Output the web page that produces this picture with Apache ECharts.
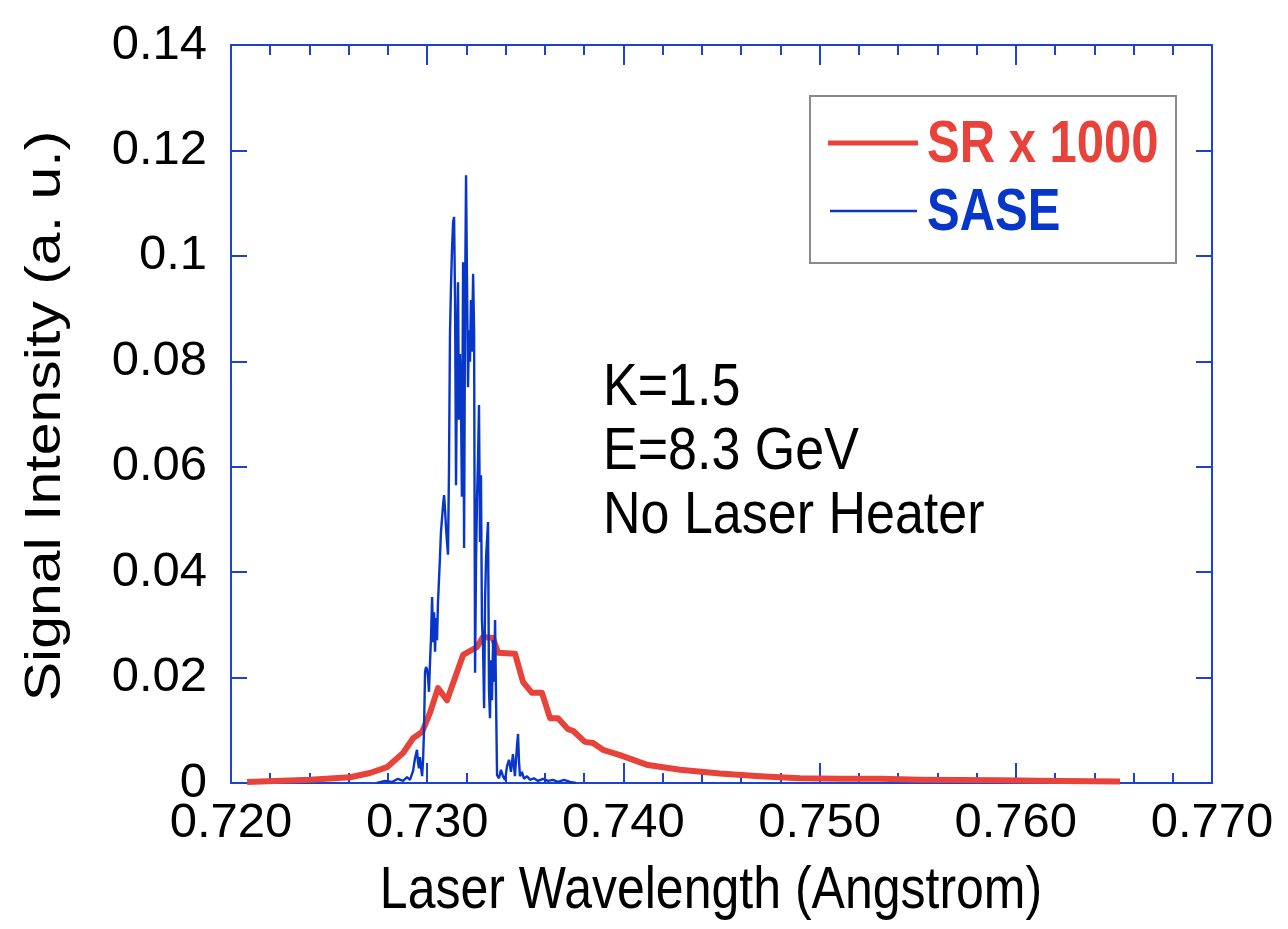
<!DOCTYPE html>
<html>
<head>
<meta charset="utf-8">
<title>Signal Intensity vs Laser Wavelength</title>
<script src="https://cdn.jsdelivr.net/npm/echarts@6/dist/echarts.min.js"></script>
<style>
  html, body { margin: 0; padding: 0; background: #ffffff; }
  #chart { width: 1288px; height: 929px; }
</style>
</head>
<body>
<div id="chart"></div>
<script>
// Wavelength axis (Angstrom) and intensity axis (a.u.)
const xTicks = [0.720, 0.730, 0.740, 0.750, 0.760, 0.770];
const yTicks = [0, 0.02, 0.04, 0.06, 0.08, 0.10, 0.12, 0.14];

// Spontaneous radiation spectrum, scaled x1000: wavelength / intensity
const srWavelength = [0.72082, 0.72403, 0.72607, 0.72708, 0.72795, 0.72877, 0.72928, 0.72974,
  0.73014, 0.73055, 0.73101, 0.73183, 0.73254, 0.73284, 0.73335, 0.73361, 0.73448, 0.73488,
  0.73534, 0.73585, 0.73626, 0.73667, 0.73718, 0.73743, 0.73804, 0.73845, 0.73896, 0.73983,
  0.74125, 0.74289, 0.74492, 0.74696, 0.74900, 0.75104, 0.75308, 0.75512, 0.75920, 0.76225, 0.76531];
const srIntensity = [0.0002, 0.0006, 0.0011, 0.0019, 0.0030, 0.0057, 0.0085, 0.0097,
  0.0133, 0.0180, 0.0157, 0.0243, 0.0258, 0.0277, 0.0275, 0.0247, 0.0245, 0.0192,
  0.0171, 0.0171, 0.0123, 0.0123, 0.0102, 0.0099, 0.0078, 0.0076, 0.0063, 0.0053,
  0.0034, 0.0025, 0.0018, 0.0013, 0.0009, 0.0008, 0.0008, 0.0006, 0.0005, 0.0004, 0.0003];

// Single-shot SASE spectrum: wavelength / intensity
const saseWavelength = [0.72744, 0.72785, 0.72821, 0.72851, 0.72877, 0.72897, 0.72912, 0.72928,
  0.72938, 0.72948, 0.72953, 0.72958, 0.72963, 0.72968, 0.72974, 0.72979, 0.72984, 0.72989,
  0.72994, 0.72999, 0.73004, 0.73009, 0.73014, 0.73019, 0.73025, 0.73030, 0.73035, 0.73040,
  0.73045, 0.73050, 0.73055, 0.73060, 0.73065, 0.73070, 0.73075, 0.73081, 0.73086, 0.73091,
  0.73096, 0.73101, 0.73106, 0.73111, 0.73116, 0.73121, 0.73126, 0.73132, 0.73137, 0.73142,
  0.73147, 0.73152, 0.73157, 0.73162, 0.73167, 0.73172, 0.73177, 0.73183, 0.73188, 0.73193,
  0.73198, 0.73203, 0.73208, 0.73213, 0.73218, 0.73223, 0.73228, 0.73234, 0.73239, 0.73244,
  0.73249, 0.73254, 0.73259, 0.73264, 0.73269, 0.73274, 0.73279, 0.73285, 0.73290, 0.73295,
  0.73300, 0.73305, 0.73310, 0.73315, 0.73320, 0.73325, 0.73330, 0.73336, 0.73341, 0.73346,
  0.73351, 0.73356, 0.73366, 0.73376, 0.73386, 0.73397, 0.73407, 0.73417, 0.73427, 0.73437,
  0.73447, 0.73458, 0.73463, 0.73468, 0.73473, 0.73483, 0.73493, 0.73509, 0.73524, 0.73544,
  0.73565, 0.73590, 0.73616, 0.73641, 0.73667, 0.73697, 0.73728, 0.73758];
const saseIntensity = [0, 0.0004, 0.0002, 0.0008, 0.0004, 0.0011, 0.0006, 0.0023,
  0.0047, 0.0063, 0.0040, 0.0028, 0.0049, 0.0032, 0.0013, 0.0044, 0.0104, 0.0211,
  0.0220, 0.0216, 0.0203, 0.0173, 0.0226, 0.0271, 0.0353, 0.0267, 0.0324, 0.0249,
  0.0313, 0.0271, 0.0343, 0.0385, 0.0427, 0.0476, 0.0499, 0.0527, 0.0546, 0.0518,
  0.0484, 0.0457, 0.0433, 0.0594, 0.0850, 0.0939, 0.1007, 0.1064, 0.1074, 0.0916,
  0.0565, 0.0821, 0.0950, 0.0689, 0.0814, 0.0723, 0.0543, 0.0988, 0.0446, 0.0916,
  0.1153, 0.0950, 0.0751, 0.0859, 0.0799, 0.0916, 0.0818, 0.0966, 0.0859, 0.0209,
  0.0423, 0.0541, 0.0613, 0.0717, 0.0457, 0.0584, 0.0309, 0.0252, 0.0142, 0.0347,
  0.0427, 0.0461, 0.0495, 0.0176, 0.0123, 0.0233, 0.0157, 0.0271, 0.0192, 0.0309,
  0.0157, 0.0015, 0.0009, 0.0025, 0.0013, 0.0006, 0.0032, 0.0044, 0.0021, 0.0055,
  0.0013, 0.0072, 0.0093, 0.0040, 0.0013, 0.0021, 0.0008, 0.0013, 0.0006, 0.0009,
  0.0004, 0.0008, 0.0004, 0.0006, 0.0002, 0.0006, 0.0002, 0];

const seriesNames = ['SR x 1000', 'SASE'];
const noteLines = ['K=1.5', 'E=8.3 GeV', 'No Laser Heater'];
const xTitle = 'Laser Wavelength (Angstrom)';
const yTitle = 'Signal Intensity (a. u.)';

const RED = '#e8433a';
const BLUE = '#0836c8';
const AXIS = '#1b42d2';
const SANS = '"Liberation Sans", Arial, Helvetica, sans-serif';
// the lettering is a little taller than it is wide
const TALL = 1.18;

const zip = (xs, ys) => xs.map((x, i) => [x, ys[i]]);

const chart = echarts.init(document.getElementById('chart'), null, { renderer: 'canvas' });

const xBase = {
  type: 'value',
  min: xTicks[0],
  max: xTicks[xTicks.length - 1],
  interval: xTicks[1] - xTicks[0],
  splitLine: { show: false },
  axisLine: { show: true, onZero: false, lineStyle: { color: AXIS, width: 2 } },
  axisTick: { show: true, inside: true, length: 20, lineStyle: { color: AXIS, width: 2 } },
  minorTick: { show: true, splitNumber: 5, length: 10, lineStyle: { color: AXIS, width: 2 } },
};
const yBase = {
  type: 'value',
  min: yTicks[0],
  max: yTicks[yTicks.length - 1],
  interval: yTicks[1] - yTicks[0],
  splitLine: { show: false },
  axisLine: { show: true, onZero: false, lineStyle: { color: AXIS, width: 2 } },
  axisTick: { show: true, inside: true, length: 16, lineStyle: { color: AXIS, width: 2 } },
};

const textEl = (text, x, y, font, fill, align, sx, sy, rot) => ({
  type: 'text', x: x, y: y, rotation: rot || 0, scaleX: sx, scaleY: sy, z: 11,
  style: { text: text, font: font, fill: fill, textAlign: align, textVerticalAlign: 'middle' }
});

chart.setOption({
  animation: false,
  backgroundColor: '#ffffff',
  grid: { left: 231, right: 76, top: 45, bottom: 146, containLabel: false },
  xAxis: [
    Object.assign({}, xBase, {
      position: 'bottom',
      axisLabel: {
        show: true, margin: 16, color: '#000', fontFamily: SANS, fontSize: 49,
        formatter: v => v.toFixed(3)
      }
    }),
    Object.assign({}, xBase, { position: 'top', axisLabel: { show: false } })
  ],
  yAxis: [
    Object.assign({}, yBase, {
      position: 'left',
      axisLabel: {
        show: true, margin: 24, color: '#000', fontFamily: SANS, fontSize: 49,
        formatter: v => String(parseFloat(v.toFixed(2)))
      }
    }),
    Object.assign({}, yBase, { position: 'right', axisLabel: { show: false } })
  ],
  series: [
    {
      name: seriesNames[0], type: 'line', xAxisIndex: 0, yAxisIndex: 0,
      data: zip(srWavelength, srIntensity),
      showSymbol: false, symbol: 'none', smooth: false,
      lineStyle: { color: RED, width: 6, join: 'round' }, z: 2
    },
    {
      name: seriesNames[1], type: 'line', xAxisIndex: 0, yAxisIndex: 0,
      data: zip(saseWavelength, saseIntensity),
      showSymbol: false, symbol: 'none', smooth: false,
      lineStyle: { color: BLUE, width: 2.4 }, z: 3
    }
  ],
  graphic: [
    // axis titles
    textEl(yTitle, 46, 416, '50px ' + SANS, '#000', 'center', TALL, 1, Math.PI / 2),
    textEl(xTitle, 711, 892, '50px ' + SANS, '#000', 'center', 1, TALL),
    // parameter notes
    ...noteLines.map((t, i) => textEl(t, 603, 389 + i * 64, '52px ' + SANS, '#000', 'left', 1, 1.14)),
    // legend box
    {
      type: 'rect', shape: { x: 810, y: 96, width: 366, height: 167 },
      style: { fill: '#ffffff', stroke: '#8a8a8a', lineWidth: 2 }, z: 10
    },
    {
      type: 'line', shape: { x1: 828, y1: 143, x2: 918, y2: 143 },
      style: { stroke: RED, lineWidth: 5 }, z: 11
    },
    textEl(seriesNames[0], 927, 146, 'bold 49px ' + SANS, RED, 'left', 1, 1.22),
    {
      type: 'line', shape: { x1: 830, y1: 211, x2: 917, y2: 211 },
      style: { stroke: BLUE, lineWidth: 2.4 }, z: 11
    },
    textEl(seriesNames[1], 927, 214, 'bold 49px ' + SANS, BLUE, 'left', 1, 1.22)
  ]
});
</script>
</body>
</html>
